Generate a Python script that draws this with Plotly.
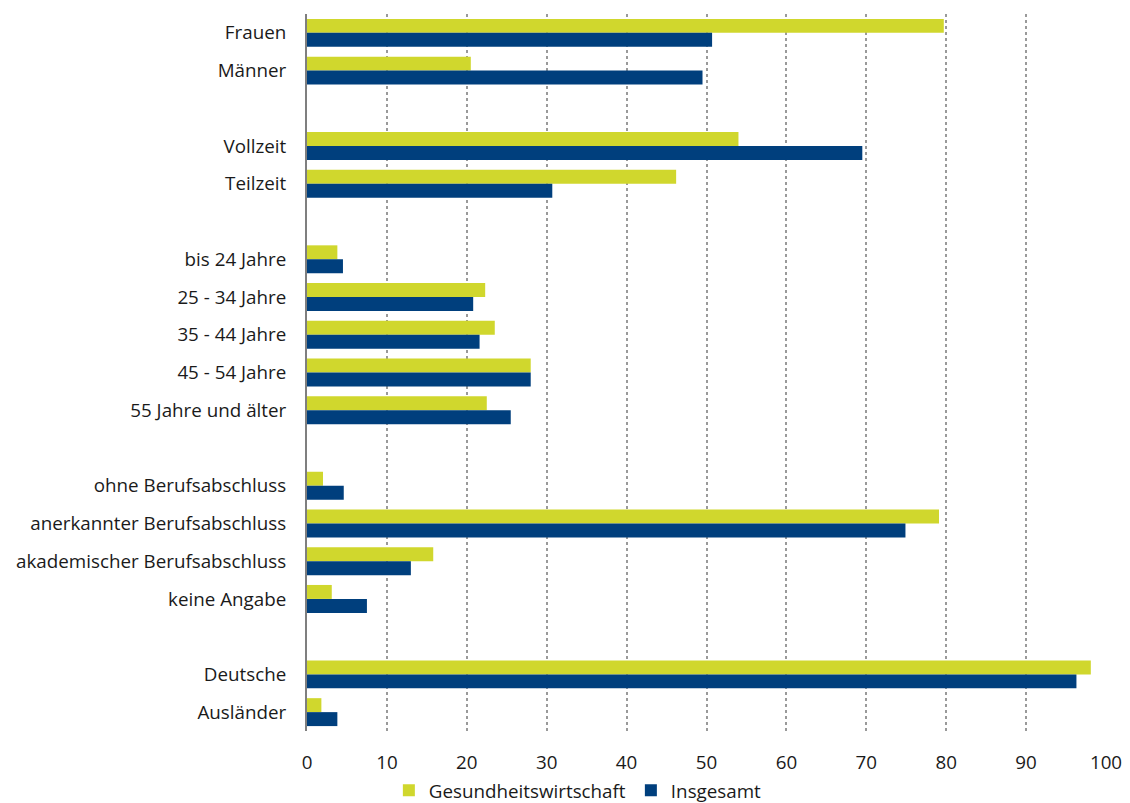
import plotly.graph_objects as go

categories = [
    "Frauen", "Männer", " ",
    "Vollzeit", "Teilzeit", "  ",
    "bis 24 Jahre", "25 - 34 Jahre", "35 - 44 Jahre", "45 - 54 Jahre", "55 Jahre und älter", "   ",
    "ohne Berufsabschluss", "anerkannter Berufsabschluss", "akademischer Berufsabschluss", "keine Angabe", "    ",
    "Deutsche", "Ausländer",
]
gesundheitswirtschaft = [
    79.7, 20.5, None,
    54.0, 46.2, None,
    3.8, 22.3, 23.5, 28.0, 22.5, None,
    2.0, 79.1, 15.8, 3.1, None,
    98.1, 1.8,
]
insgesamt = [
    50.7, 49.5, None,
    69.5, 30.7, None,
    4.5, 20.8, 21.6, 28.0, 25.5, None,
    4.6, 74.9, 13.0, 7.5, None,
    96.3, 3.8,
]
x_ticks = [0, 10, 20, 30, 40, 50, 60, 70, 80, 90, 100]

GREEN = "#D0D72D"
BLUE = "#003F7D"
FONT = "Open Sans"
FS = 18.8

fig = go.Figure()
fig.add_trace(go.Bar(
    y=categories, x=gesundheitswirtschaft, orientation="h",
    name="Gesundheitswirtschaft", marker=dict(color=GREEN, line=dict(width=0)),
))
fig.add_trace(go.Bar(
    y=categories, x=insgesamt, orientation="h",
    name="Insgesamt", marker=dict(color=BLUE, line=dict(width=0)),
))

fig.update_layout(
    width=1122, height=795,
    margin=dict(l=299, r=24, t=6, b=72, autoexpand=False),
    paper_bgcolor="white", plot_bgcolor="white",
    barmode="group", bargap=0.26, bargroupgap=0,
    font=dict(family=FONT, size=FS, color="#1a1a1a"),
    showlegend=True,
    legend=dict(orientation="h", x=0.339, xanchor="center",
                yref="paper", y=-0.083, yanchor="middle",
                font=dict(family=FONT, size=FS, color="#1a1a1a"),
                itemwidth=30, traceorder="normal", tracegroupgap=0),
)
fig.update_yaxes(
    type="category", categoryorder="array", categoryarray=categories,
    autorange="reversed", showgrid=False,
    showline=True, linecolor="#7f7f7f", linewidth=2,
    ticks="", ticklabelstandoff=15, tickfont=dict(family=FONT, size=FS),
)
fig.update_xaxes(
    range=[0, 100], tickvals=x_ticks, showgrid=True,
    gridcolor="#9a9a9a", griddash="dot", gridwidth=1.5,
    zeroline=False, showline=False, ticks="", ticklabelstandoff=18,
    tickfont=dict(family=FONT, size=FS),
)

fig.write_html("out.html")
